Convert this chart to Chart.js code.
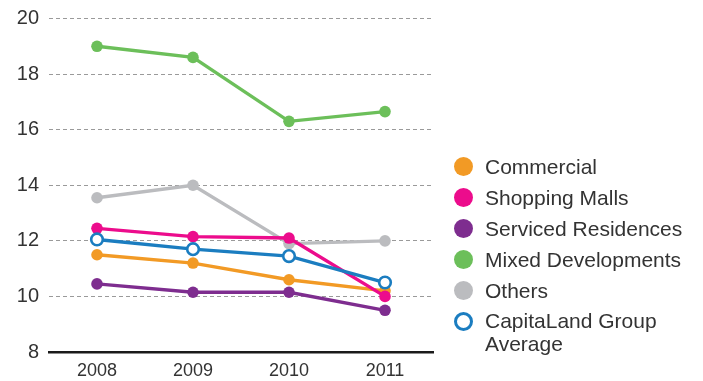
<!DOCTYPE html>
<html>
<head>
<meta charset="utf-8">
<script src="https://cdn.jsdelivr.net/npm/chart.js@4/dist/chart.umd.min.js"></script>
<style>
  html, body { margin: 0; padding: 0; background: #fff; }
  #wrap { position: relative; width: 703px; height: 381px; }
  #legend { position: absolute; left: 453px; top: 154px; font-family: "Liberation Sans", Arial, sans-serif; font-size: 21px; color: #333; }
  .item { position: relative; padding-left: 32px; height: 31px; line-height: 25px; white-space: nowrap; }
  .item .dot { position: absolute; left: 1px; top: 3px; width: 19px; height: 19px; border-radius: 50%; box-sizing: border-box; }
  .item.two { line-height: 23px; height: auto; }
</style>
</head>
<body>
<div id="wrap">
  <canvas id="c" width="703" height="381"></canvas>
  <div id="legend"></div>
</div>
<script>
const categories = ["2008", "2009", "2010", "2011"];
const seriesNames = ["Commercial", "Shopping Malls", "Serviced Residences", "Mixed Developments", "Others", "CapitaLand Group Average"];
const commercial = [11.5, 11.2, 10.6, 10.2];
const shoppingMalls = [12.45, 12.15, 12.1, 10.0];
const servicedResidences = [10.45, 10.15, 10.15, 9.5];
const mixedDevelopments = [19.0, 18.6, 16.3, 16.65];
const others = [13.55, 14.0, 11.9, 12.0];
const groupAverage = [12.05, 11.7, 11.45, 10.5];
const yTicks = [8, 10, 12, 14, 16, 18, 20];

const colors = ["#F29A25", "#EC0C8C", "#7E2D8F", "#6CBF5A", "#BBBCBF", "#1B7DC0"];
const values = [commercial, shoppingMalls, servicedResidences, mixedDevelopments, others, groupAverage];
const orders = [2, 1, 3, 4, 5, 0];

const datasets = values.map((v, i) => {
  const hollow = i === 5;
  return {
    label: seriesNames[i],
    data: v,
    borderColor: colors[i],
    backgroundColor: hollow ? "#fff" : colors[i],
    pointBackgroundColor: hollow ? "#fff" : colors[i],
    pointBorderColor: colors[i],
    pointBorderWidth: hollow ? 2.6 : 0,
    pointRadius: 5.8,
    borderWidth: 3.4,
    tension: 0,
    order: orders[i]
  };
});

new Chart(document.getElementById("c"), {
  type: "line",
  data: { labels: categories, datasets },
  options: {
    responsive: false,
    animation: false,
    events: [],
    layout: { padding: { top: 18.5, right: 270, left: 0, bottom: 0 } },
    plugins: { legend: { display: false }, tooltip: { enabled: false } },
    scales: {
      x: {
        offset: true,
        grid: { display: false, drawTicks: false },
        border: { display: true, color: "#1a1a1a", width: 2.5 },
        ticks: { color: "#333", padding: 8, font: { family: "Liberation Sans", size: 18 } },
        afterFit: (s) => { s.height = 29; s.paddingLeft = 0; s.paddingRight = 0; }
      },
      y: {
        min: 8, max: 20,
        afterBuildTicks: (s) => { s.ticks = yTicks.map(v => ({ value: v })); },
        grid: { color: "#9a9a9a", lineWidth: 1, drawTicks: false },
        border: { display: false, dash: [4, 3] },
        ticks: { color: "#333", padding: 10, font: { family: "Liberation Sans", size: 20 } },
        afterFit: (s) => { s.width = 49; s.paddingTop = 0; s.paddingBottom = 0; }
      }
    }
  }
});

const legend = document.getElementById("legend");
seriesNames.forEach((n, i) => {
  const d = document.createElement("div");
  d.className = "item" + (i === 5 ? " two" : "");
  const dot = document.createElement("span");
  dot.className = "dot";
  if (i === 5) { dot.style.border = "3px solid " + colors[i]; dot.style.background = "#fff"; }
  else dot.style.background = colors[i];
  d.appendChild(dot);
  const t = document.createElement("span");
  t.innerHTML = i === 5 ? "CapitaLand Group<br>Average" : n;
  d.appendChild(t);
  legend.appendChild(d);
});
</script>
</body>
</html>
